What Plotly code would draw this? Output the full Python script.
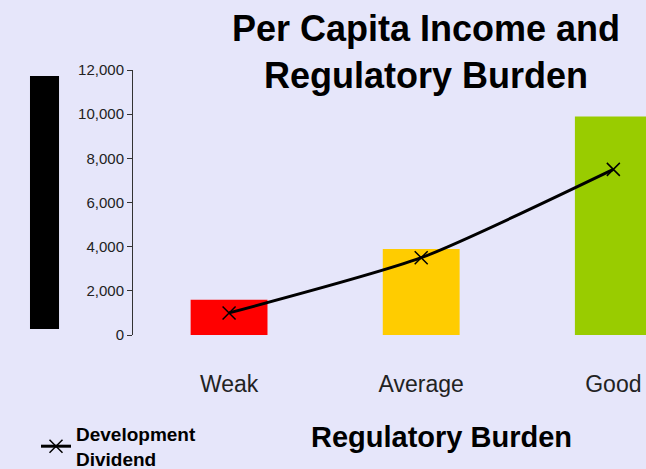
import plotly.graph_objects as go

categories = ["Weak", "Average", "Good"]
income = [1600, 3900, 9900]
dividend = [1000, 3500, 7500]
bar_colors = ["#FF0000", "#FFCC00", "#99CC00"]

BG = "#E6E6FA"
FONT = "Liberation Sans, Arial, sans-serif"

fig = go.Figure()
fig.add_trace(go.Bar(
    x=categories, y=income, width=0.4,
    marker=dict(color=bar_colors, line=dict(width=0)),
    showlegend=False,
))
fig.add_trace(go.Scatter(
    x=categories, y=dividend,
    mode="lines+markers",
    name="<b>Development<br>Dividend</b>",
    line=dict(color="black", width=3, shape="spline", smoothing=0.6),
    marker=dict(symbol="x-thin", size=13, line=dict(color="black", width=1.5)),
))

# black block to the left of the value axis
fig.add_shape(type="rect", xref="paper", yref="paper",
              x0=-0.2008, x1=-0.1442, y0=0.0226, y1=0.977,
              fillcolor="black", line=dict(width=0))

fig.add_annotation(text="<b>Regulatory Burden</b>", xref="paper", yref="paper",
                   x=(441 - 133) / 513, y=(335 - 437) / 265,
                   xanchor="center", yanchor="middle",
                   showarrow=False, font=dict(size=29, color="black"))

fig.update_layout(
    width=646, height=469,
    paper_bgcolor=BG, plot_bgcolor=BG,
    font=dict(family=FONT, color="black"),
    margin=dict(l=133, r=0, t=70, b=134, autoexpand=False),
    title=dict(text="<b>Per Capita Income and<br>Regulatory Burden</b>",
               x=426 / 646, xanchor="center", y=1 - 41 / 469, yanchor="top",
               font=dict(size=36, color="black")),
    bargap=0.6,
    showlegend=True,
    legend=dict(xref="container", yref="container", x=36 / 646, y=1 - 415 / 469,
                xanchor="left", yanchor="top", bgcolor="rgba(0,0,0,0)",
                font=dict(size=19, color="black")),
)
fig.update_xaxes(range=[-0.5, 2.17], showgrid=False, showline=False, zeroline=False,
                 ticks="outside", ticklen=28, tickcolor="rgba(0,0,0,0)",
                 tickfont=dict(size=23, color="#222222"))
fig.update_yaxes(range=[0, 12000], dtick=2000, tickformat=",", showgrid=False,
                 zeroline=False, showline=True, linecolor="#333333", linewidth=1,
                 ticks="outside", ticklen=5, tickcolor="#333333",
                 tickfont=dict(size=15, color="#222222"))

fig.write_html("out.html", config={"displayModeBar": False},
               post_script="document.body.style.margin='0';")
